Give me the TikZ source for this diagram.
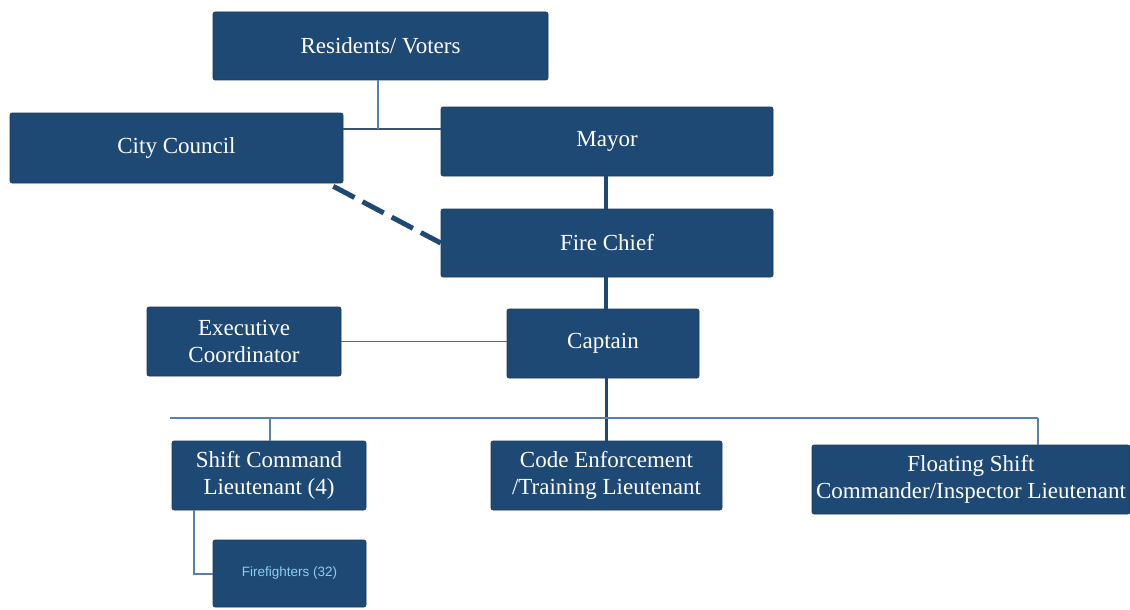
\documentclass[tikz,border=0pt]{standalone}
\usepackage{fontspec}
\setmainfont{Liberation Serif}
\newfontfamily\labelsans{Liberation Sans}
\definecolor{boxblue}{RGB}{31,73,117}
\definecolor{linkblue}{RGB}{52,84,120}
\definecolor{thinblue}{RGB}{88,128,170}
\definecolor{ffcyan}{RGB}{140,205,240}
\begin{document}
\begin{tikzpicture}[x=1pt,y=-1pt,
  orgbox/.style={draw=boxblue!80!black,line width=0.6pt,fill=boxblue,rounded corners=2pt,
    text=white,font=\fontsize{23}{27}\selectfont,align=center,inner sep=0pt},
  strong/.style={draw=boxblue,line width=4pt},
  medium/.style={draw=linkblue,line width=2.5pt},
  fine/.style={draw=linkblue!85,line width=1.4pt},
  faint/.style={draw=thinblue,line width=1.4pt}]
\useasboundingbox (0,0) rectangle (1130,610);

% boxes
\node[orgbox,minimum width=335pt,minimum height=68pt] (res) at (380.5,46) {Residents/ Voters};
\node[orgbox,minimum width=333pt,minimum height=70pt] (council) at (176.5,148) {City Council};
\node[orgbox,minimum width=332pt,minimum height=69pt] (mayor) at (607,141.5) {Mayor};
\node[orgbox,minimum width=332pt,minimum height=68pt] (chief) at (607,243) {Fire Chief};
\node[orgbox,minimum width=194pt,minimum height=69pt] (exec) at (244,341.5) {Executive\\Coordinator};
\node[orgbox,minimum width=192pt,minimum height=69pt] (captain) at (603,343.5) {Captain};
\node[orgbox,minimum width=194pt,minimum height=69pt] (shift) at (269,475.5) {Shift Command\\Lieutenant (4)};
\node[orgbox,minimum width=231pt,minimum height=69pt] (code) at (606.5,475.5) {Code Enforcement\\/Training Lieutenant};
\node[orgbox,minimum width=318pt,minimum height=69pt] (float) at (971,479.5) {Floating Shift\\Commander/Inspector Lieutenant};
\node[orgbox,minimum width=153pt,minimum height=67pt,text=ffcyan,font=\labelsans\fontsize{13.5}{16}\selectfont] (ff) at (289.5,573.5) {Firefighters (32)};

% joints
\coordinate (cm) at (378,129);
\coordinate (busL) at (170,418);
\coordinate (busR) at (1038,418);
\coordinate (busS) at (270,418);
\coordinate (busC) at (606,418);
\coordinate (ffk) at (194,574);

% connectors
\draw[medium] (council.east |- cm) -- (mayor.west |- cm);
\draw[faint] (res.south -| cm) -- (cm);
\draw[draw=boxblue,line width=5pt,dash pattern=on 24pt off 9pt] ([xshift=-10pt,yshift=-3pt]council.south east) -- (chief.west);
\draw[strong] (mayor.south -| busC) -- (chief.north -| busC);
\draw[strong] (chief.south -| busC) -- (captain.north -| busC);
\draw[fine] (exec.east) -- (exec.east -| captain.west);
\draw[draw=boxblue,line width=3pt] (captain.south -| busC) -- (code.north -| busC);
\draw[faint] (busL) -- (busR);
\draw[faint] (busS) -- (shift.north -| busS);
\draw[faint] (busR) -- (float.north -| busR);
\draw[faint] (shift.south -| ffk) -- (ffk) -- (ff.west |- ffk);
\end{tikzpicture}
\end{document}
